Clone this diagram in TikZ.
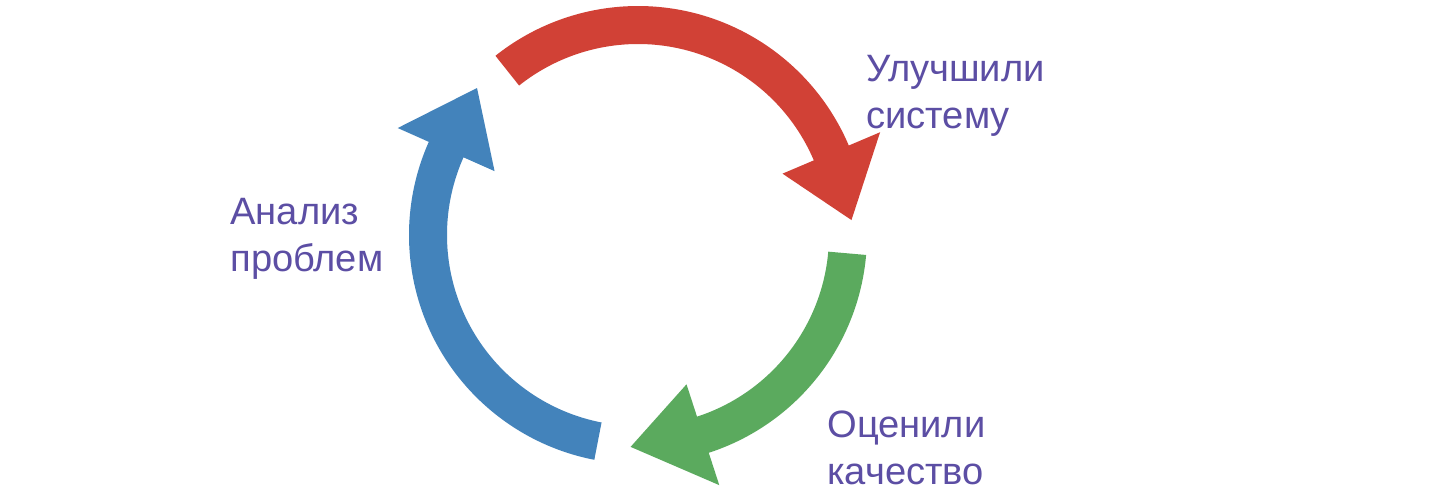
\documentclass[tikz,border=0pt]{standalone}
\usepackage{fontspec}
\setmainfont{Liberation Sans}
\usepackage{tikz}

\definecolor{arrowred}{RGB}{209,65,54}
\definecolor{arrowgreen}{RGB}{91,170,94}
\definecolor{arrowblue}{RGB}{67,131,187}
\definecolor{labelpurple}{RGB}{92,78,164}

\begin{document}
\begin{tikzpicture}[x=0.02cm,y=0.02cm,
    lab/.style={anchor=north west,inner sep=0pt,align=left,text=labelpurple,
      font=\fontsize{21.7}{26.5}\selectfont}]
\useasboundingbox[fill=white] (-638,-259) rectangle (802,235);
      % red arrow (top)
      \fill[arrowred] (128.5:229) arc[start angle=128.5,end angle=23,radius=229] -- (23:263) -- (4:214)
            -- (23:157) -- (23:191) arc[start angle=23,end angle=128.5,radius=191] -- cycle;
      % green arrow (right)
      \fill[arrowgreen] (-5:229) arc[start angle=-5,end angle=-72,radius=229] -- (-72:263) -- (-92:212)
            -- (-72:157) -- (-72:191) arc[start angle=-72,end angle=-5,radius=191] -- cycle;
      % blue arrow (left)
      \fill[arrowblue] (-101:229) arc[start angle=-101,end angle=-204,radius=229] -- (-204:263) -- (-222.4:218)
            -- (-204:157) -- (-204:191) arc[start angle=-204,end angle=-101,radius=191] -- cycle;
\node[lab] (improve) at (228,180) {Улучшили\\систему};
\node[lab] (analysis) at (-408,37) {Анализ\\проблем};
\node[lab] (assess) at (189,-176) {Оценили\\качество};
\end{tikzpicture}
\end{document}
